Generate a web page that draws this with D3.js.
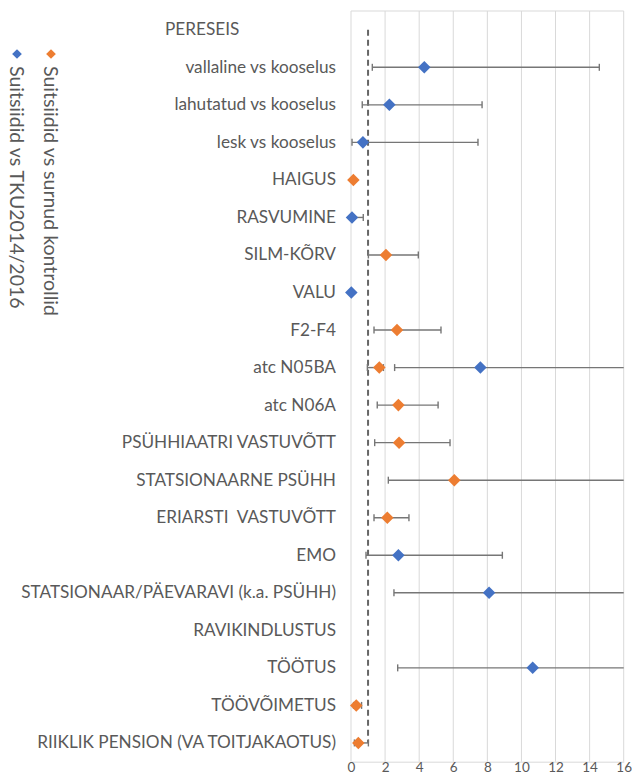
<!DOCTYPE html>
<html>
<head>
<meta charset="utf-8">
<script src="https://cdn.jsdelivr.net/npm/d3@7"></script>
<style>
  html, body { margin: 0; padding: 0; background: #fff; }
  svg { display: block; font-family: Lato, "Open Sans", sans-serif; }
  svg text { white-space: pre; }
</style>
</head>
<body>
<svg id="chart" width="632" height="776"></svg>
<script>
// Row labels, top to bottom
const categories = [
  "PERESEIS",
  "vallaline vs kooselus",
  "lahutatud vs kooselus",
  "lesk vs kooselus",
  "HAIGUS",
  "RASVUMINE",
  "SILM-KÕRV",
  "VALU",
  "F2-F4",
  "atc N05BA",
  "atc N06A",
  "PSÜHHIAATRI VASTUVÕTT",
  "STATSIONAARNE PSÜHH",
  "ERIARSTI  VASTUVÕTT",
  "EMO",
  "STATSIONAAR/PÄEVARAVI (k.a. PSÜHH)",
  "RAVIKINDLUSTUS",
  "TÖÖTUS",
  "TÖÖVÕIMETUS",
  "RIIKLIK PENSION (VA TOITJAKAOTUS)"
];

// Suitsiidid vs surnud kontrollid: odds ratio, lower CI, upper CI (null = no estimate)
const controlOR    = [null, null, null, null, 0.14, null, 2.05, null, 2.70, 1.66, 2.78, 2.82, 6.06, 2.13, null, null, null, null, 0.31, 0.43];
const controlLower = [null, null, null, null, 0.10, null, 1.02, null, 1.35, 0.96, 1.54, 1.39, 2.19, 1.35, null, null, null, null, 0.15, 0.20];
const controlUpper = [null, null, null, null, 0.20, null, 3.95, null, 5.28, 1.90, 5.11, 5.81, 17.5, 3.40, null, null, null, null, 0.62, 1.02];

// Suitsiidid vs TKU2014/2016
const tkuOR    = [null, 4.30, 2.25, 0.70, null, 0.06, null, 0.02, null, 7.59, null, null, null, null, 2.78, 8.10, null, 10.66, null, null];
const tkuLower = [null, 1.25, 0.66, 0.06, null, 0.00, null, 0.00, null, 2.56, null, null, null, null, 0.88, 2.52, null, 2.74, null, null];
const tkuUpper = [null, 14.57, 7.69, 7.45, null, 0.72, null, 0.05, null, 22.0, null, null, null, null, 8.88, 24.0, null, 30.0, null, null];

const xTicks = [0, 2, 4, 6, 8, 10, 12, 14, 16];
const referenceValue = 1;

const seriesNames = ["Suitsiidid vs surnud kontrollid", "Suitsiidid vs TKU2014/2016"];
const seriesColors = ["#ED7D31", "#4472C4"];

const svg = d3.select("#chart");
const plot = { left: 351, right: 623.7, top: 11, bottom: 761.7 };

const x = d3.scaleLinear().domain([0, 16]).range([plot.left, plot.right]);
const y = d3.scaleBand().domain(categories).range([plot.top, plot.bottom]).padding(0);
const yc = c => y(c) + y.bandwidth() / 2;

// vertical gridlines
svg.append("g")
  .selectAll("line")
  .data(xTicks)
  .join("line")
  .attr("x1", d => x(d)).attr("x2", d => x(d))
  .attr("y1", plot.top).attr("y2", plot.bottom)
  .attr("stroke", "#d9d9d9").attr("stroke-width", 1);

// plot frame top
svg.append("line")
  .attr("x1", plot.left).attr("x2", plot.right)
  .attr("y1", plot.top).attr("y2", plot.top)
  .attr("stroke", "#d9d9d9");

// x axis
const xAxis = svg.append("g")
  .attr("transform", `translate(0,${plot.bottom})`)
  .call(d3.axisBottom(x).tickValues(xTicks).tickSize(0).tickPadding(1));
xAxis.select(".domain").attr("stroke", "#d9d9d9");
xAxis.selectAll("text")
  .attr("fill", "#595959")
  .style("font-size", "13.5px")
  .style("font-family", "Lato, 'Open Sans', sans-serif");

// category axis
const yAxis = svg.append("g")
  .attr("transform", `translate(${plot.left - 15},0)`)
  .call(d3.axisLeft(y).tickSize(0).tickPadding(0));
yAxis.select(".domain").remove();
yAxis.selectAll("text")
  .attr("fill", "#595959")
  .style("font-size", "17.2px")
  .style("font-family", "Lato, 'Open Sans', sans-serif");
// group header sits left-aligned
yAxis.selectAll(".tick")
  .filter(d => d === "PERESEIS")
  .select("text")
  .attr("text-anchor", "start")
  .attr("x", 165 - (plot.left - 15));

// reference line at OR = 1
svg.append("line")
  .attr("x1", x(referenceValue)).attr("x2", x(referenceValue))
  .attr("y1", yc(categories[0])).attr("y2", yc(categories[categories.length - 1]))
  .attr("stroke", "#666666")
  .attr("stroke-width", 2)
  .attr("stroke-dasharray", "6,4");

function buildSeries(or, lo, hi) {
  return categories.map((c, i) => ({ cat: c, or: or[i], lo: lo[i], hi: hi[i] }))
    .filter(d => d.or != null);
}
const series = [
  buildSeries(controlOR, controlLower, controlUpper),
  buildSeries(tkuOR, tkuLower, tkuUpper)
];

const [dMin, dMax] = x.domain();
const capH = 3.5;
const barColor = "#767676";

series.forEach((data, si) => {
  const g = svg.append("g");
  // error bars
  const eb = g.selectAll("g.eb").data(data).join("g").attr("class", "eb");
  eb.append("line")
    .attr("x1", d => x(Math.max(dMin, d.lo)))
    .attr("x2", d => x(Math.min(dMax, d.hi)))
    .attr("y1", d => yc(d.cat)).attr("y2", d => yc(d.cat))
    .attr("stroke", barColor).attr("stroke-width", 1.4);
  eb.filter(d => d.lo >= dMin).append("line")
    .attr("x1", d => x(d.lo)).attr("x2", d => x(d.lo))
    .attr("y1", d => yc(d.cat) - capH).attr("y2", d => yc(d.cat) + capH)
    .attr("stroke", barColor).attr("stroke-width", 1.4);
  eb.filter(d => d.hi <= dMax).append("line")
    .attr("x1", d => x(d.hi)).attr("x2", d => x(d.hi))
    .attr("y1", d => yc(d.cat) - capH).attr("y2", d => yc(d.cat) + capH)
    .attr("stroke", barColor).attr("stroke-width", 1.4);
  // diamonds
  g.selectAll("path.pt").data(data).join("path")
    .attr("class", "pt")
    .attr("d", d3.symbol(d3.symbolDiamond2, 100))
    .attr("transform", d => `translate(${x(d.or)},${yc(d.cat)})`)
    .attr("fill", seriesColors[si]);
});

// legend, rotated to read top-down
const legendX = [51, 17];
seriesNames.forEach((name, i) => {
  svg.append("path")
    .attr("d", d3.symbol(d3.symbolDiamond2, 60))
    .attr("transform", `translate(${legendX[i]},54)`)
    .attr("fill", seriesColors[i]);
  svg.append("text")
    .attr("transform", `translate(${legendX[i]},66) rotate(90)`)
    .attr("dy", "0.35em")
    .attr("fill", "#595959")
    .style("font-size", "19.5px")
    .text(name);
});
</script>
</body>
</html>
